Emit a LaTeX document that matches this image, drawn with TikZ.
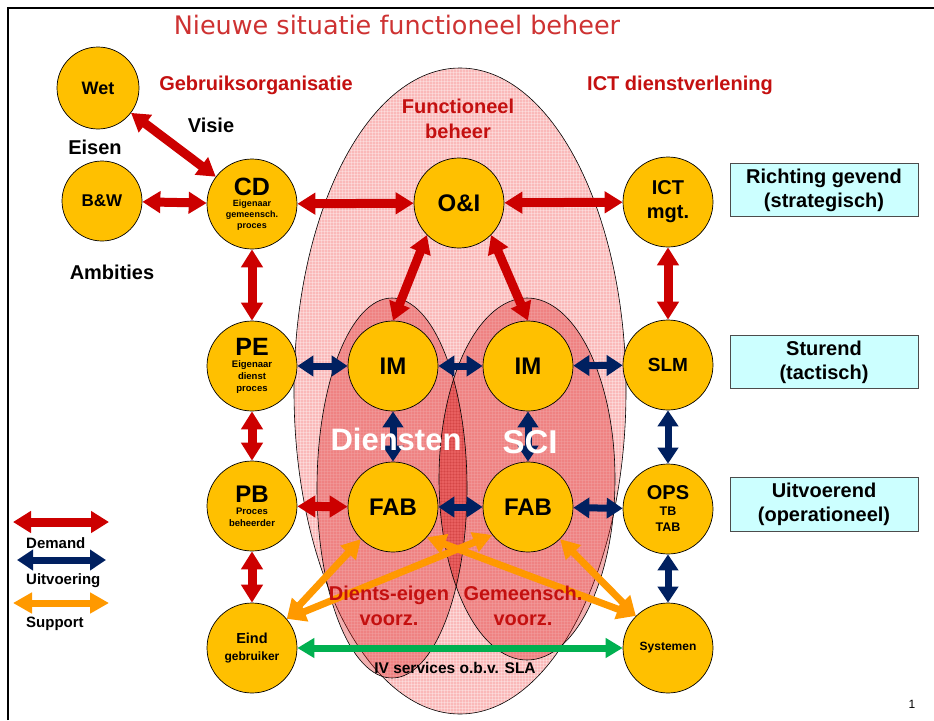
\documentclass[tikz,border=0pt]{standalone}
\usepackage{fontspec}
\setmainfont{Liberation Sans}
\newfontfamily\titlefont{DejaVu Sans}
\usetikzlibrary{arrows.meta,patterns}
\definecolor{gold}{RGB}{255,192,0}
\definecolor{dred}{RGB}{204,0,0}
\definecolor{navy}{RGB}{0,32,96}
\definecolor{orng}{RGB}{255,153,0}
\definecolor{grn}{RGB}{0,176,80}
\definecolor{titlered}{RGB}{206,50,50}
\definecolor{lblred}{RGB}{196,16,16}
\definecolor{cyanbox}{RGB}{204,255,255}
\definecolor{pinkbg}{RGB}{250,185,185}
\definecolor{innerred}{RGB}{220,30,30}
\newcommand\fsz[2]{\fontsize{#1}{#2}\selectfont}
\tikzset{
  circ/.style={circle,draw=black,line width=0.7pt,fill=gold,minimum size=90pt,inner sep=0pt,align=center,font=\bfseries},
  lvl/.style={draw=gray!60!black,line width=0.8pt,fill=cyanbox,minimum width=188pt,minimum height=53pt,align=center,font=\fsz{20}{24}\bfseries,inner sep=0pt},
  lbl/.style={font=\fsz{20}{25}\bfseries,text=lblred,align=center,inner sep=0pt},
  blk/.style={font=\fsz{20}{24}\bfseries,text=black,inner sep=0pt},
  wht/.style={font=\fsz{31}{31}\bfseries,text=white,inner sep=0pt},
  dem/.style={draw=dred,line width=9pt,{Triangle[length=18pt,width=21pt]}-{Triangle[length=18pt,width=21pt]}},
  uit/.style={draw=navy,line width=7pt,{Triangle[length=16pt,width=20pt]}-{Triangle[length=16pt,width=20pt]}},
  sup/.style={draw=orng,line width=7pt,{Triangle[length=19pt,width=20pt]}-{Triangle[length=19pt,width=20pt]}},
  sla/.style={draw=grn,line width=7pt,{Triangle[length=17pt,width=19pt]}-{Triangle[length=17pt,width=19pt]}},
  fbig/.style={fill=pinkbg},
  finner/.style={fill=innerred,fill opacity=0.35},
  grd/.style={pattern=grid,pattern color=white,opacity=0.3},
  edge/.style={draw=black,line width=0.6pt}
}
\begin{document}
\begin{tikzpicture}[x=1pt,y=-1pt]
\useasboundingbox (0,0) rectangle (934,720);
\fill[white] (0,0) rectangle (934,720);
% frame
\draw[line width=2pt] (8,720) -- (8,8) -- (934,8);
% ellipses
\fill[fbig] (460,391) ellipse [x radius=166pt, y radius=323pt];
\fill[grd] (460,391) ellipse [x radius=166pt, y radius=323pt];
\draw[edge] (460,391) ellipse [x radius=166pt, y radius=323pt];
\fill[finner] (392,488) ellipse [x radius=75pt, y radius=190pt];
\fill[finner] (527,479) ellipse [x radius=88pt, y radius=181pt];
\begin{scope}
\clip (392,488) ellipse [x radius=75pt, y radius=190pt];
\fill[pattern=grid,pattern color=red!70!black,opacity=0.2] (527,479) ellipse [x radius=88pt, y radius=181pt];
\end{scope}
\draw[edge] (392,488) ellipse [x radius=75pt, y radius=190pt];
\draw[edge] (527,479) ellipse [x radius=88pt, y radius=181pt];
% title and labels
\node[font=\titlefont\fsz{25.5}{26},text=titlered] (title) at (397,25) {Nieuwe situatie functioneel beheer};
\node[lbl] (go) at (256,85) {Gebruiksorganisatie};
\node[lbl] (ictd) at (680,85) {ICT dienstverlening};
\node[lbl] (fb) at (458,119) {Functioneel\\beheer};
\node[blk] (visie) at (211,125) {Visie};
\node[blk] (eisen) at (95,147) {Eisen};
\node[blk] (ambities) at (112,272) {Ambities};
% nodes
\node[circ,minimum size=82pt,font=\fsz{18}{20}\bfseries] (wet) at (98,88) {Wet};
\node[circ,minimum size=80pt,font=\fsz{17}{20}\bfseries] (bw) at (102,201) {B\&W};
\node[circ,font=\fsz{9}{11}\bfseries] (cd) at (252,204) {{\fsz{25}{25}CD}\\Eigenaar\\gemeensch.\\proces};
\node[circ,font=\fsz{24}{24}\bfseries] (oi) at (459,203) {O\&I};
\node[circ,font=\fsz{20}{24}\bfseries] (ict) at (668,202) {ICT\\mgt.};
\node[circ,font=\fsz{9.5}{12}\bfseries] (pe) at (252,366) {{\fsz{25}{25}PE}\\Eigenaar\\dienst\\proces};
\node[circ,font=\fsz{24}{24}\bfseries] (iml) at (393,366) {IM};
\node[circ,font=\fsz{24}{24}\bfseries] (imr) at (528,366) {IM};
\node[circ,font=\fsz{19}{20}\bfseries] (slm) at (668,365) {SLM};
\node[circ,font=\fsz{9.5}{12}\bfseries] (pb) at (252,506) {{\fsz{24}{24}PB}\\Proces\\beheerder};
\node[circ,font=\fsz{24}{24}\bfseries] (fabl) at (393,507) {FAB};
\node[circ,font=\fsz{24}{24}\bfseries] (fabr) at (528,507) {FAB};
\node[circ,font=\fsz{12.5}{16}\bfseries] (ops) at (668,509) {{\fsz{20}{20}OPS}\\TB\\TAB};
\node[circ,font=\fsz{12}{17}\bfseries] (eind) at (252,648) {{\fsz{14.5}{16}Eind}\\gebruiker};
\node[circ,font=\fsz{12}{14}\bfseries] (sys) at (668,648) {Systemen};
% level boxes
\node[lvl] (rg) at (824,190) {Richting gevend\\(strategisch)};
\node[lvl] (st) at (824,362) {Sturend\\(tactisch)};
\node[lvl,minimum height=54pt] (uv) at (824,504) {Uitvoerend\\(operationeel)};
% demand arrows
\draw[dem] (wet) -- (cd);
\draw[dem] (bw) -- (cd);
\draw[dem] (cd) -- (oi);
\draw[dem] (oi) -- (ict);
\draw[dem] (cd) -- (pe);
\draw[dem] (pe) -- (pb);
\draw[dem] (pb) -- (eind);
\draw[dem] (ict) -- (slm);
\draw[dem] (oi.south west) -- (iml.north);
\draw[dem] (oi.south east) -- (imr.north);
\draw[dem] (pb) -- (fabl);
% uitvoering arrows
\draw[uit] (slm) -- (ops);
\draw[uit] (ops) -- (sys);
\draw[uit] (pe) -- (iml);
\draw[uit] (iml) -- (imr);
\draw[uit] (imr) -- (slm);
\draw[uit] (iml) -- (fabl);
\draw[uit] (imr) -- (fabr);
\draw[uit] (fabl) -- (fabr);
\draw[uit] (fabr) -- (ops);
% support arrows
\draw[sup] (eind.40) -- (fabl.225);
\draw[sup] (eind.40) -- (fabr.218);
\draw[sup] (fabl.318) -- (sys.135);
\draw[sup] (fabr.315) -- (sys.135);
% SLA
\draw[sla] (eind) -- (sys);
% labels inside ellipses
\node[wht] (dien) at (396,439) {Diensten};
\node[wht,font=\fsz{33}{33}\bfseries] (sci) at (530,442) {SCI};
\node[lbl] (de) at (389,606) {Dients-eigen\\voorz.};
\node[lbl] (gv) at (523,606) {Gemeensch.\\voorz.};
\node[font=\fsz{15.5}{18}\bfseries,inner sep=0pt] (iv) at (455,668) {IV services o.b.v. SLA};
% legend
\coordinate (d1) at (13,522); \coordinate (d2) at (109,522);
\coordinate (u1) at (17,560); \coordinate (u2) at (106,560);
\coordinate (s1) at (13,603); \coordinate (s2) at (109,603);
\draw[dem] (d1) -- (d2);
\draw[uit] (u1) -- (u2);
\draw[sup] (s1) -- (s2);
\node[anchor=west,font=\fsz{15}{18}\bfseries,inner sep=0pt] (ld) at (26,543) {Demand};
\node[anchor=west,font=\fsz{15}{18}\bfseries,inner sep=0pt] (lu) at (26,581) {Uitvoering};
\node[anchor=west,font=\fsz{15}{18}\bfseries,inner sep=0pt] (ls) at (26,624) {Support};
\node[font=\fsz{12}{14},inner sep=0pt] (pg) at (912,704) {1};
\end{tikzpicture}
\end{document}
